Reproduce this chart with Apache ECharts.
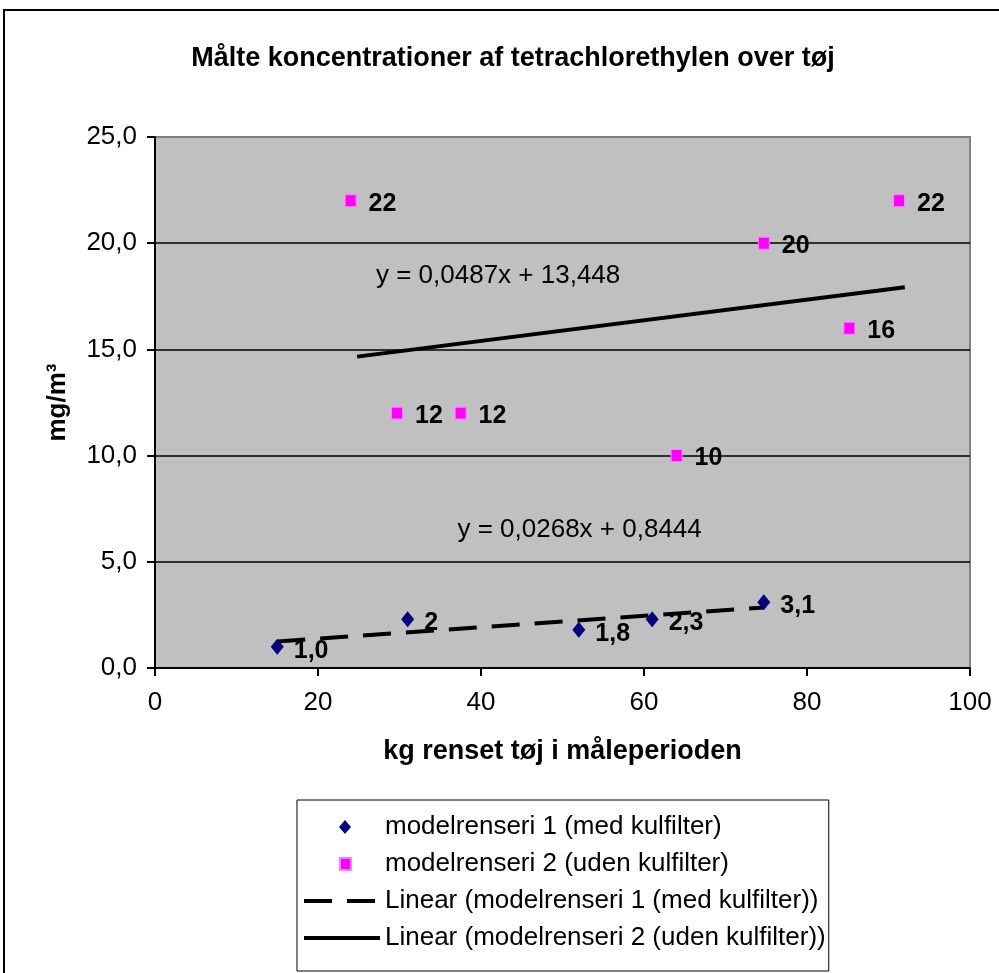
<!DOCTYPE html>
<html>
<head>
<meta charset="utf-8">
<title>Målte koncentrationer af tetrachlorethylen over tøj</title>
<script src="https://cdn.jsdelivr.net/npm/echarts@6/dist/echarts.min.js"></script>
<style>
  html, body { margin: 0; padding: 0; background: #fff; }
  #chart { width: 999px; height: 973px; }
</style>
</head>
<body>
<div id="chart"></div>
<script>
// series names
var seriesNames = [
  'modelrenseri 1 (med kulfilter)',
  'modelrenseri 2 (uden kulfilter)',
  'Linear (modelrenseri 1 (med kulfilter))',
  'Linear (modelrenseri 2 (uden kulfilter))'
]

// modelrenseri 1 (med kulfilter)
var x1 = [15, 31, 52, 61, 74.7]
var y1 = [1.0, 2.3, 1.8, 2.3, 3.1]
var labels1 = ['1,0', '2', '1,8', '2,3', '3,1']

// modelrenseri 2 (uden kulfilter)
var x2 = [24, 29.7, 37.5, 64, 74.7, 85.2, 91.3]
var y2 = [22, 12, 12, 10, 20, 16, 22]
var labels2 = ['22', '12', '12', '10', '20', '16', '22']

// trendline end points
var trendX1 = [15, 74.7]
var trendY1 = [1.25, 2.85]
var trendX2 = [24.8, 92]
var trendY2 = [14.66, 17.93]
var trendText1 = 'y = 0,0268x + 0,8444'
var trendText2 = 'y = 0,0487x + 13,448'

// axis ticks
var xTicks = [0, 20, 40, 60, 80, 100]
var yTicks = [0, 5, 10, 15, 20, 25]

var font = '"Liberation Sans", Arial, sans-serif'
var fs = 26

// legend icons: small marker centred in a 76x14 box (zero-size corner points keep the box size)
var diamondIcon = 'path://M0,0L0,0ZM76,14L76,14ZM41,0L47,7L41,14L35,7Z'
var squareIcon = 'path://M0,0L0,0ZM76,14L76,14ZM36,1L47,1L47,13L36,13Z'

function pairs (xs, ys) {
  return xs.map(function (x, i) { return [x, ys[i]] })
}

var chart = echarts.init(document.getElementById('chart'))

var option = {
  animation: false,
  backgroundColor: '#ffffff',
  textStyle: { fontFamily: font },
  title: {
    text: 'Målte koncentrationer af tetrachlorethylen over tøj',
    left: 508,
    top: 40,
    textAlign: 'center',
    textStyle: { fontFamily: font, fontSize: 27, fontWeight: 'bold', color: '#000' }
  },
  graphic: [
    {
      type: 'rect',
      silent: true,
      shape: { x: 4, y: 10, width: 1200, height: 1200 },
      style: { fill: 'none', stroke: '#000', lineWidth: 2 }
    }
  ],
  grid: {
    left: 155,
    top: 137,
    right: 29,
    bottom: 305,
    show: true,
    backgroundColor: '#c0c0c0',
    borderColor: '#808080',
    borderWidth: 2
  },
  legend: {
    orient: 'vertical',
    left: 297,
    top: 800,
    padding: [14, 3, 20, 5],
    itemGap: 11,
    itemWidth: 76,
    itemHeight: 14,
    backgroundColor: '#fff',
    borderColor: '#000',
    borderWidth: 1,
    borderRadius: 0,
    lineStyle: { width: 4 },
    textStyle: { fontFamily: font, fontSize: fs, color: '#000' },
    data: [
      { name: seriesNames[0], icon: diamondIcon, itemStyle: { color: '#000080' } },
      { name: seriesNames[1], icon: squareIcon, itemStyle: { color: '#ff00ff' } },
      { name: seriesNames[2], itemStyle: { opacity: 0 } },
      { name: seriesNames[3], itemStyle: { opacity: 0 } }
    ]
  },
  xAxis: {
    type: 'value',
    min: xTicks[0],
    max: xTicks[xTicks.length - 1],
    interval: 20,
    name: 'kg renset tøj i måleperioden',
    nameLocation: 'middle',
    nameGap: 70,
    nameTextStyle: { fontFamily: font, fontSize: 27, fontWeight: 'bold', color: '#000' },
    axisLine: { lineStyle: { color: '#000', width: 2 } },
    axisTick: { inside: false, length: 8, lineStyle: { color: '#000', width: 2 } },
    axisLabel: { fontFamily: font, fontSize: fs, color: '#000', margin: 22 },
    splitLine: { show: false }
  },
  yAxis: {
    type: 'value',
    min: yTicks[0],
    max: yTicks[yTicks.length - 1],
    interval: 5,
    name: 'mg/m³',
    nameLocation: 'middle',
    nameGap: 84,
    nameRotate: 90,
    nameTextStyle: { fontFamily: font, fontSize: fs, fontWeight: 'bold', color: '#000' },
    axisLine: { show: true, lineStyle: { color: '#000', width: 2 } },
    axisTick: { show: true, inside: false, length: 8, lineStyle: { color: '#000', width: 2 } },
    axisLabel: {
      fontFamily: font,
      fontSize: fs,
      color: '#000',
      margin: 18,
      formatter: function (v) { return v.toFixed(1).replace('.', ',') }
    },
    splitLine: {
      show: true,
      lineStyle: { color: ['#000', '#000', '#000', '#000', '#000', '#808080'], width: 1.5 }
    }
  },
  series: [
    {
      name: seriesNames[0],
      type: 'scatter',
      symbol: 'diamond',
      symbolSize: [13, 16],
      itemStyle: { color: '#000080', opacity: 1 },
      emphasis: { disabled: true },
      data: pairs(x1, y1),
      label: {
        show: true,
        position: 'right',
        distance: 10,
        offset: [0, 4],
        fontFamily: font,
        fontSize: 25,
        fontWeight: 'bold',
        color: '#000',
        formatter: function (p) { return labels1[p.dataIndex] }
      },
      z: 5
    },
    {
      name: seriesNames[1],
      type: 'scatter',
      symbol: 'rect',
      symbolSize: [11, 12],
      itemStyle: { color: '#ff00ff', borderColor: '#ff80ff', borderWidth: 1, opacity: 1 },
      emphasis: { disabled: true },
      data: pairs(x2, y2),
      label: {
        show: true,
        position: 'right',
        distance: 12,
        offset: [0, 3],
        fontFamily: font,
        fontSize: 25,
        fontWeight: 'bold',
        color: '#000',
        formatter: function (p) { return labels2[p.dataIndex] }
      },
      z: 5
    },
    {
      name: seriesNames[2],
      type: 'line',
      symbol: 'none',
      showSymbol: false,
      lineStyle: { color: '#000', width: 4, type: [28, 15] },
      itemStyle: { color: '#000' },
      emphasis: { disabled: true },
      data: pairs(trendX1, trendY1),
      markPoint: {
        symbol: 'circle',
        symbolSize: 0,
        itemStyle: { color: 'transparent' },
        label: {
          show: true,
          position: 'inside',
          fontFamily: font,
          fontSize: fs,
          color: '#000',
          formatter: trendText1
        },
        data: [{ coord: [52.1, 6.5] }]
      },
      z: 3
    },
    {
      name: seriesNames[3],
      type: 'line',
      symbol: 'none',
      showSymbol: false,
      lineStyle: { color: '#000', width: 4, type: 'solid' },
      itemStyle: { color: '#000' },
      emphasis: { disabled: true },
      data: pairs(trendX2, trendY2),
      markPoint: {
        symbol: 'circle',
        symbolSize: 0,
        itemStyle: { color: 'transparent' },
        label: {
          show: true,
          position: 'inside',
          fontFamily: font,
          fontSize: fs,
          color: '#000',
          formatter: trendText2
        },
        data: [{ coord: [42.1, 18.46] }]
      },
      z: 3
    }
  ]
}

chart.setOption(option)
</script>
</body>
</html>
